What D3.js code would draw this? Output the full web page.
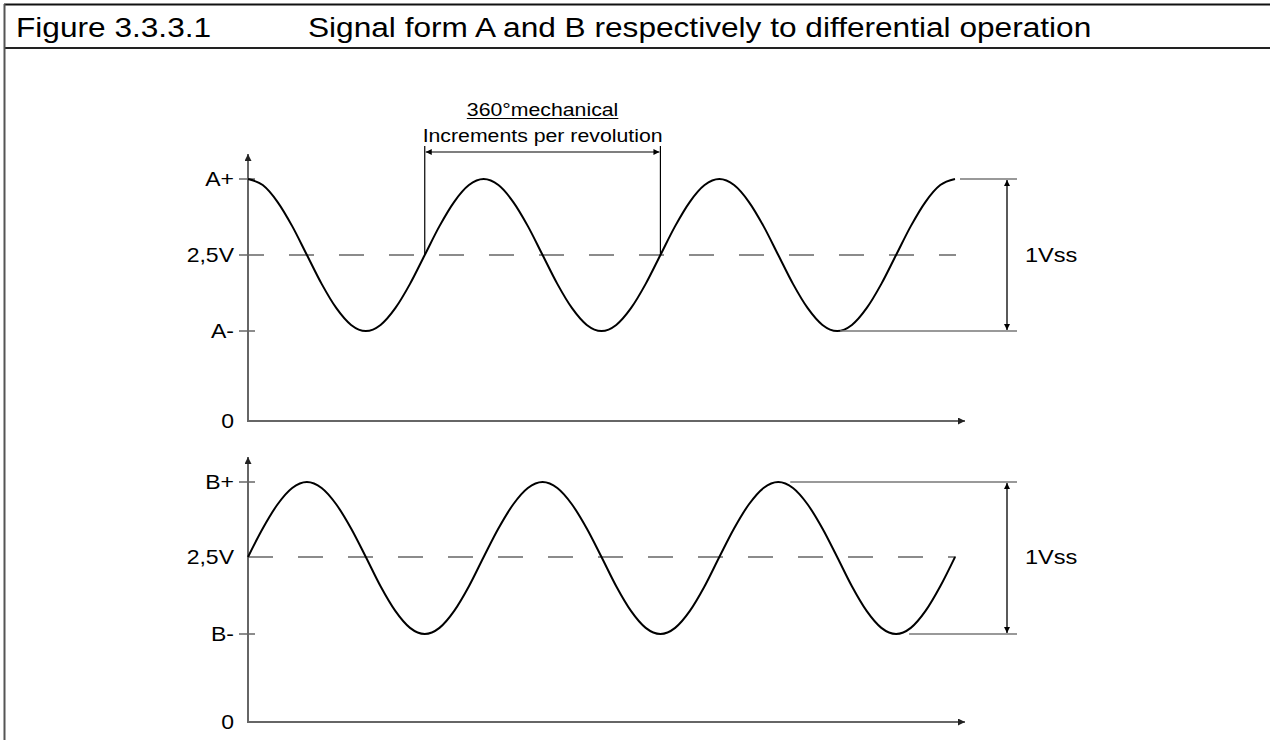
<!DOCTYPE html>
<html><head><meta charset="utf-8">
<script src="https://cdn.jsdelivr.net/npm/d3@7"></script>
<style>body{margin:0;background:#fff} svg{display:block}</style>
</head><body>
<svg id="c" width="1270" height="740"></svg>
<script>
// ---------- data ----------
const titleNumber = "Figure 3.3.3.1";
const titleText = "Signal form A and B respectively to differential operation";
const phaseDeg = [0,22.5,45,67.5,90,112.5,135,157.5,180,202.5,225,247.5,270,292.5,315,337.5,
  360,382.5,405,427.5,450,472.5,495,517.5,540,562.5,585,607.5,630,652.5,675,697.5,
  720,742.5,765,787.5,810,832.5,855,877.5,900,922.5,945,967.5,990,1012.5,1035,1057.5,1080];
const signalA = [3.0,2.96,2.85,2.69,2.5,2.31,2.15,2.04,2.0,2.04,2.15,2.31,2.5,2.69,2.85,2.96,
  3.0,2.96,2.85,2.69,2.5,2.31,2.15,2.04,2.0,2.04,2.15,2.31,2.5,2.69,2.85,2.96,
  3.0,2.96,2.85,2.69,2.5,2.31,2.15,2.04,2.0,2.04,2.15,2.31,2.5,2.69,2.85,2.96,3.0];
const signalB = [2.5,2.69,2.85,2.96,3.0,2.96,2.85,2.69,2.5,2.31,2.15,2.04,2.0,2.04,2.15,2.31,
  2.5,2.69,2.85,2.96,3.0,2.96,2.85,2.69,2.5,2.31,2.15,2.04,2.0,2.04,2.15,2.31,
  2.5,2.69,2.85,2.96,3.0,2.96,2.85,2.69,2.5,2.31,2.15,2.04,2.0,2.04,2.15,2.31,2.5];
const levelValues = [0, 2.0, 2.5, 3.0];
const tickLabelsA = ["0", "A-", "2,5V", "A+"];
const tickLabelsB = ["0", "B-", "2,5V", "B+"];
const amplitudeLabel = "1Vss";
const periodLabels = ["360°mechanical", "Increments per revolution"];
const periodDeg = [270, 630];

// ---------- setup ----------
const svg = d3.select("#c");
const FONT = "'Liberation Sans', Arial, Helvetica, sans-serif";
const STRETCH = 1.15;
const defs = svg.append("defs");
function marker(id, color, w, h) {
  defs.append("marker").attr("id", id).attr("viewBox", "0 0 10 10")
    .attr("refX", 10).attr("refY", 5).attr("markerWidth", w).attr("markerHeight", h)
    .attr("markerUnits", "userSpaceOnUse").attr("orient", "auto-start-reverse")
    .append("path").attr("d", "M0,0 L10,5 L0,10 Z").attr("fill", color);
}
marker("arrAxis", "#222", 12, 7);
marker("arrDim", "#000", 12, 6);

function stext(g, x, y, str, size, anchor, opts = {}) {
  return g.append("text")
    .attr("transform", `translate(${x},${y}) scale(${STRETCH},1)`)
    .attr("text-anchor", anchor)
    .attr("dominant-baseline", opts.baseline || "alphabetic")
    .attr("font-family", FONT).attr("font-size", size)
    .attr("fill", "#000")
    .text(str);
}

// ---------- frame / title ----------
svg.append("line").attr("x1", 4).attr("x2", 1270).attr("y1", 4.5).attr("y2", 4.5).attr("stroke", "#111").attr("stroke-width", 2);
svg.append("line").attr("x1", 4).attr("x2", 1270).attr("y1", 48).attr("y2", 48).attr("stroke", "#222").attr("stroke-width", 2);
svg.append("line").attr("x1", 4.5).attr("x2", 4.5).attr("y1", 4).attr("y2", 740).attr("stroke", "#555").attr("stroke-width", 2);
stext(svg, 16, 37, titleNumber, 27.5, "start");
stext(svg, 308, 37, titleText, 27.5, "start");

// ---------- scales ----------
const x = d3.scaleLinear().domain([0, 1080]).range([248, 955]);
const panels = [
  { y: d3.scaleLinear().domain(levelValues).range([421, 331, 255, 179]), data: signalA, labels: tickLabelsA, dashStart: -9, refOff: [3, 5] },
  { y: d3.scaleLinear().domain(levelValues).range([722, 634, 557, 482]), data: signalB, labels: tickLabelsB, dashStart: 0, refOff: [13, 12] }
];
const x0 = x(0), xEnd = x(1080);
const line = d3.line().x((d, i) => x(phaseDeg[i])).y(d => d).curve(d3.curveMonotoneX);

panels.forEach(p => {
  const g = svg.append("g");
  const y = p.y;
  // axes
  g.append("line").attr("x1", x0).attr("x2", x0).attr("y1", y(0)).attr("y2", y(3.0) - 25)
    .attr("stroke", "#666").attr("stroke-width", 2).attr("marker-end", "url(#arrAxis)");
  g.append("line").attr("x1", x0 - 1).attr("x2", xEnd + 10).attr("y1", y(0)).attr("y2", y(0))
    .attr("stroke", "#666").attr("stroke-width", 2).attr("marker-end", "url(#arrAxis)");
  // ticks (min and max levels)
  [2.0, 3.0].forEach(v => {
    g.append("line").attr("x1", x0 - 9).attr("x2", x0 + 7).attr("y1", y(v)).attr("y2", y(v))
      .attr("stroke", "#666").attr("stroke-width", 1.5);
  });
  // dashed centre line
  g.append("line").attr("x1", x0 + p.dashStart).attr("x2", xEnd + 1).attr("y1", y(2.5)).attr("y2", y(2.5))
    .attr("stroke", "#666").attr("stroke-width", 1.5).attr("stroke-dasharray", "25,25");
  // tick labels
  levelValues.forEach((v, i) => {
    stext(g, x0 - 14, y(v), p.labels[i], 20, "end", { baseline: "central" });
  });
  // signal
  g.append("path").datum(p.data.map(v => y(v))).attr("d", line)
    .attr("fill", "none").attr("stroke", "#000").attr("stroke-width", 2);
  // reference lines at last min / max
  let lastMax = 0, lastMin = 0;
  p.data.forEach((v, i) => { if (v === 3.0) lastMax = phaseDeg[i]; if (v === 2.0) lastMin = phaseDeg[i]; });
  const refEnd = 1017, dimX = 1007;
  g.append("line").attr("x1", x(lastMax) + p.refOff[1]).attr("x2", refEnd).attr("y1", y(3.0)).attr("y2", y(3.0))
    .attr("stroke", "#777").attr("stroke-width", 1.5);
  g.append("line").attr("x1", x(lastMin) + p.refOff[0]).attr("x2", refEnd).attr("y1", y(2.0)).attr("y2", y(2.0))
    .attr("stroke", "#777").attr("stroke-width", 1.5);
  g.append("line").attr("x1", dimX).attr("x2", dimX).attr("y1", y(3.0) + 1).attr("y2", y(2.0) - 1)
    .attr("stroke", "#000").attr("stroke-width", 1.3)
    .attr("marker-start", "url(#arrDim)").attr("marker-end", "url(#arrDim)");
  stext(g, 1025, y(2.5), amplitudeLabel, 20.5, "start", { baseline: "central" });
});

// ---------- 360° annotation (panel A) ----------
const yA = panels[0].y;
const ax1 = x(periodDeg[0]), ax2 = x(periodDeg[1]), arrowY = 152;
[ax1, ax2].forEach(xx => {
  svg.append("line").attr("x1", xx).attr("x2", xx).attr("y1", 146).attr("y2", yA(2.5))
    .attr("stroke", "#000").attr("stroke-width", 1.2);
});
svg.append("line").attr("x1", ax1 + 1).attr("x2", ax2 - 1).attr("y1", arrowY).attr("y2", arrowY)
  .attr("stroke", "#000").attr("stroke-width", 1.2)
  .attr("marker-start", "url(#arrDim)").attr("marker-end", "url(#arrDim)");
const midX = (ax1 + ax2) / 2;
const t1 = stext(svg, midX, 116, periodLabels[0], 18.5, "middle");
const bb = t1.node().getBBox();
svg.append("line").attr("x1", midX - bb.width * STRETCH / 2).attr("x2", midX + bb.width * STRETCH / 2)
  .attr("y1", 118.5).attr("y2", 118.5).attr("stroke", "#000").attr("stroke-width", 1.2);
stext(svg, midX, 142, periodLabels[1], 18.5, "middle");
</script>
</body></html>
